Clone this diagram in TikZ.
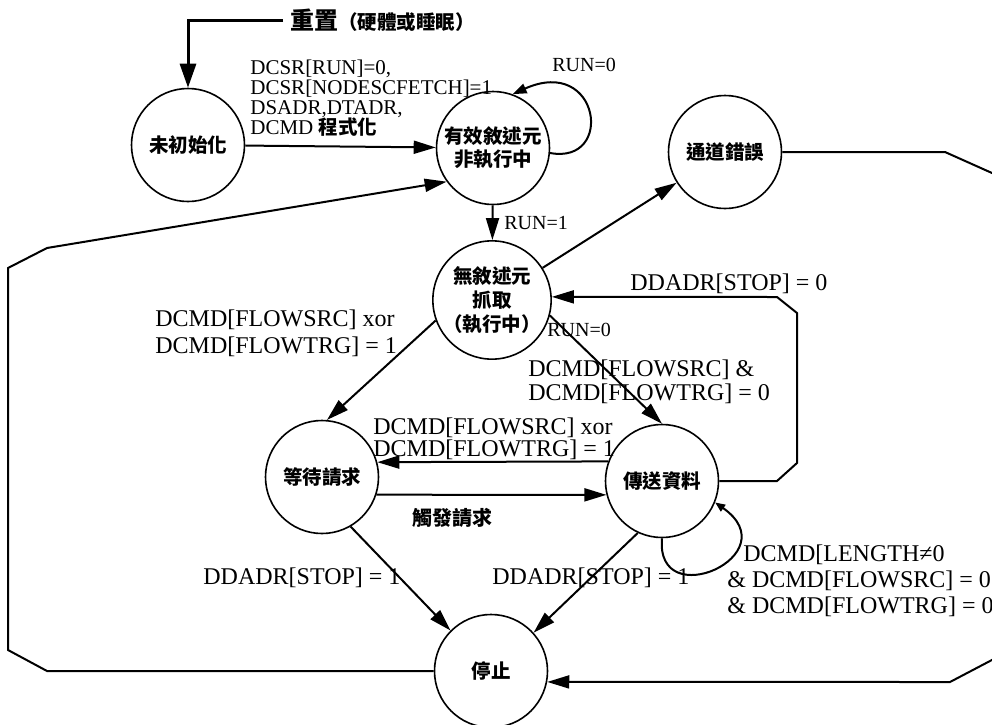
\documentclass[tikz,border=0pt]{standalone}
\usepackage{fontspec}
\setmainfont{Liberation Serif}
\newfontfamily\cjk{Noto Sans CJK TC}
\usetikzlibrary{arrows.meta}
\begin{document}
\begin{tikzpicture}[x=0.5pt,y=-0.5pt,
  state/.style={circle,draw,line width=0.8pt,minimum size=56.5pt,inner sep=0pt,
    align=center,font=\cjk\bfseries\fontsize{9.75}{10.5}\selectfont},
  lab/.style={inner sep=0pt,align=left,font=\fontsize{12}{13.5}\selectfont},
  smalllab/.style={inner sep=0pt,align=left,font=\fontsize{10}{10}\selectfont},
  edge/.style={line width=1pt,-{Triangle[length=11pt,width=6.5pt]}},
  loopedge/.style={line width=1pt,-{Triangle[length=7pt,width=5pt]}}]
\useasboundingbox (0,0) rectangle (992,724);
\clip (0,0) rectangle (992,724);

% states
\node[state] (A) at (188,145) {未初始化};
\node[state,font=\cjk\bfseries\fontsize{9.75}{11.5}\selectfont] (B) at (493,148) {有效敘述元\\非執行中};
\node[state] (C) at (725,152) {通道錯誤};
\node[state,font=\cjk\bfseries\fontsize{9.75}{12}\selectfont] (D) at (492,300) {無敘述元\\抓取\\（執行中）};
\node[state] (E) at (322,477) {等待請求};
\node[state] (F) at (662,481) {傳送資料};
\node[state] (G) at (491,671) {停止};

% reset
\node[anchor=west,inner sep=0pt] (reset) at (290,20)
  {{\cjk\bfseries\fontsize{12}{12}\selectfont 重置}{\cjk\bfseries\fontsize{9.75}{9.75}\selectfont （硬體或睡眠）}};
\coordinate (rs) at ([xshift=-3.5pt]reset.west);
\draw[line width=1.5pt,-{Triangle[length=12pt,width=8pt]}] (rs) -| (A.north);

% A -> B
\draw[edge] (A) -- (B);
\node[anchor=west,inner sep=0pt,align=left,font=\fontsize{10.5}{10}\selectfont] (lab1) at (250,98)
  {DCSR[RUN]=0,\\DCSR[NODESCFETCH]=1\\DSADR,DTADR,\\DCMD {\cjk\bfseries\fontsize{9.75}{10}\selectfont 程式化}};

% B self loop
\draw[loopedge] (B.-5) .. controls (615,165) and (600,55) .. (B.70);
\node[smalllab,anchor=west] (lab2) at (552,65) {RUN=0};

% B -> D
\draw[edge] (B) -- (D);
\node[smalllab,anchor=west] (lab3) at (504,223) {RUN=1};

% D -> C
\draw[edge] (D) -- (C);

% C -> G (around the right)
\coordinate (r1) at (945,152);
\coordinate (r2) at (1030,190);
\coordinate (r3) at (1030,640);
\coordinate (r4) at (950,682);
\draw[edge] (C.east) -- (r1) -- (r2) -- (r3) -- (r4) -- (G.-11);

% G -> B (around the left)
\coordinate (l1) at (47,671);
\coordinate (l2) at (8,650);
\coordinate (l3) at (8,268);
\coordinate (l4) at (47,248);
\draw[edge] (G.west) -- (l1) -- (l2) -- (l3) -- (l4) -- (B.216);

% D -> E
\draw[edge] (D.200) -- (E.85);
\node[lab,anchor=west] (lab4) at (155,333) {DCMD[FLOWSRC] xor\\DCMD[FLOWTRG] = 1};

% D -> F
\draw[edge] (D.-15) -- (F.north);
\node[smalllab,anchor=west] (lab5) at (547,330) {RUN=0};
\node[lab,anchor=west,font=\fontsize{12}{12}\selectfont] (lab6) at (528,382) {DCMD[FLOWSRC] \&\\DCMD[FLOWTRG] = 0};

% F -> E
\draw[edge] (F.160) -- (E.15);
\node[lab,anchor=west,font=\fontsize{12}{11}\selectfont] (lab7) at (373,439) {DCMD[FLOWSRC] xor\\DCMD[FLOWTRG] = 1};

% E -> F
\draw[edge] (E.-18) -- (F.194);
\node[inner sep=0pt,font=\cjk\bfseries\fontsize{10}{10}\selectfont] (lab8) at (452,518) {觸發請求};

% F -> D (around the right)
\coordinate (q1) at (777,481);
\coordinate (q2) at (797,463);
\coordinate (q3) at (797,313);
\coordinate (q4) at (777,297);
\draw[edge] (F.east) -- (q1) -- (q2) -- (q3) -- (q4) -- (D.3);
\node[lab,anchor=west] (lab9) at (630,284) {DDADR[STOP] = 0};

% F self loop
\draw[line width=1pt,-{Triangle[length=5pt,width=4pt]}] (F.-90) .. controls (655,615) and (790,555) .. (F.-22);
\node[lab,anchor=west,font=\fontsize{12}{13}\selectfont] (lab10) at (727,581)
  {\hspace{8pt}DCMD[LENGTH≠0\\\& DCMD[FLOWSRC] = 0\\\& DCMD[FLOWTRG] = 0};

% E -> G, F -> G
\draw[edge] (E.-60) -- (G.135);
\node[lab,anchor=west] (lab11) at (203,578) {DDADR[STOP] = 1};
\draw[edge] (F.-115) -- (G.42);
\node[lab,anchor=west] (lab12) at (492,578) {DDADR[STOP] = 1};
\end{tikzpicture}
\end{document}
